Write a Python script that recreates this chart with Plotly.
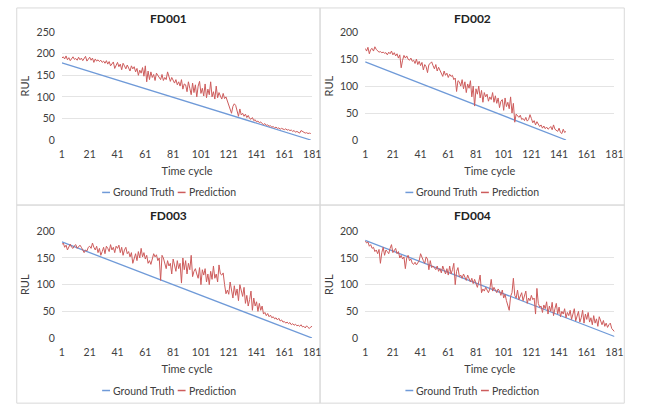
import plotly.graph_objects as go

# ---------------- data ----------------
cycle_ticks = [1, 21, 41, 61, 81, 101, 121, 141, 161, 181]

# Ground truth: straight countdown lines (start / end points)
gt1_x = [1, 180]; gt1_y = [179, 0]
gt2_x = [1, 146]; gt2_y = [145, 0]
gt3_x = [1, 181]; gt3_y = [180, 0]
gt4_x = [1, 181]; gt4_y = [183, 3]

pred1 = [190,193,188,195,186,191,184,190,193,187,
         189,185,192,186,190,184,188,194,183,189,
         192,185,190,180,188,183,186,182,185,180,
         183,178,184,176,182,172,178,181,166,175,
         180,170,176,163,178,172,165,174,168,160,
         172,165,170,158,166,150,162,155,168,148,
         172,135,160,140,158,145,152,138,155,150,
         146,140,152,138,145,140,158,143,136,145,
         138,132,140,128,135,125,140,118,130,128,
         112,135,120,105,132,110,128,100,125,136,
         108,120,102,130,98,118,105,135,100,112,
         95,125,98,110,102,95,108,96,100,90,
         82,70,62,78,84,80,65,55,72,58,
         62,55,60,52,57,50,48,52,45,47,
         42,44,40,42,38,36,38,34,35,32,
         33,30,31,28,30,27,28,25,27,26,
         24,26,23,24,22,23,20,22,18,20,
         17,16,22,20,18,16,17,15,16,15]

pred2 = [170,165,172,160,168,170,165,173,168,166,
         163,164,162,163,161,162,158,163,160,165,
         158,162,156,160,152,158,134,148,157,152,
         156,150,148,152,146,148,142,150,140,146,
         138,144,130,140,136,125,140,142,145,138,
         132,140,128,135,130,126,118,128,120,124,
         116,122,118,120,112,115,90,110,108,100,
         112,95,108,88,104,96,110,80,100,63,
         95,85,100,78,92,70,88,80,85,72,
         80,75,88,70,82,68,78,60,72,75,
         55,78,62,70,58,80,50,68,33,48,
         45,42,46,38,40,36,42,35,38,47,
         40,32,36,28,34,30,25,28,22,26,
         21,24,20,22,25,19,28,20,18,16,
         22,14,12,20,14,16]

pred3 = [175,178,170,174,165,172,176,170,168,173,
         175,168,172,174,170,166,160,165,163,170,
         172,168,178,170,165,172,160,168,155,162,
         170,158,172,168,162,175,165,170,160,172,
         168,174,160,170,155,165,170,158,162,152,
         160,140,150,158,145,162,150,168,152,160,
         148,155,140,145,138,150,158,152,156,145,
         150,108,155,150,140,130,145,135,140,120,
         148,138,125,145,130,140,103,150,128,145,
         120,140,128,155,115,125,130,120,112,132,
         100,128,118,130,105,120,100,125,110,135,
         112,120,105,137,120,118,122,100,83,90,
         82,105,90,75,98,80,92,70,100,85,
         78,95,65,80,60,72,88,52,75,60,
         68,50,65,52,60,45,48,42,46,40,
         43,38,40,36,38,34,37,32,34,30,
         31,28,30,27,29,25,27,24,26,23,
         24,22,25,21,22,19,23,20,18,21,
         22]

pred4 = [182,178,180,172,175,168,170,162,165,158,
         166,140,160,170,155,165,162,158,168,175,
         160,165,168,158,162,150,155,148,152,130,
         150,155,145,148,140,138,142,137,140,145,
         158,150,145,140,152,148,128,145,132,135,
         130,128,135,125,130,122,135,125,120,130,
         118,135,120,128,140,100,125,132,115,118,
         112,120,115,108,118,110,105,112,102,110,
         100,95,105,118,85,92,88,95,90,85,
         92,110,88,95,90,85,92,88,80,90,
         75,82,70,60,52,78,85,112,80,75,
         90,72,80,85,70,78,88,65,75,70,
         80,72,75,45,93,65,58,60,48,62,
         55,68,45,60,50,67,42,55,65,45,
         58,40,50,45,55,38,48,42,52,35,
         45,55,32,40,50,30,38,52,28,45,
         35,48,30,38,25,42,28,36,22,40,
         30,25,33,22,28,20,25,28,18,15,
         12]

titles = ["FD001", "FD002", "FD003", "FD004"]
legend_names = ["Ground Truth", "Prediction"]
y_max = [250, 200, 200, 200]
series = [(gt1_x, gt1_y, pred1), (gt2_x, gt2_y, pred2),
          (gt3_x, gt3_y, pred3), (gt4_x, gt4_y, pred4)]

# ---------------- layout geometry (pixels) ----------------
W, H = 649, 414
def fx(p): return p / W
def fy(p): return 1 - p / H

panels = [(14, 2, 323, 205), (323, 2, 633, 205), (14, 205, 323, 409), (323, 205, 633, 409)]
plots = [(60, 27, 315, 138), (369, 27, 623, 138), (60, 232, 315, 342), (369, 232, 623, 342)]

GT_COLOR = "#6F9AD8"
PR_COLOR = "#CD5C5C"
TXT = "#404040"
FONT = "Lato, Open Sans, sans-serif"

fig = go.Figure()
layout = dict(width=W, height=H, margin=dict(l=0, r=0, t=0, b=0),
              paper_bgcolor="white", plot_bgcolor="white",
              font=dict(family=FONT, color=TXT, size=10),
              showlegend=False, shapes=[], annotations=[])

for i in range(4):
    gx, gy, pr = series[i]
    n = "" if i == 0 else str(i + 1)
    fig.add_trace(go.Scatter(x=gx, y=gy, mode="lines", name=legend_names[0],
                             line=dict(color=GT_COLOR, width=1.3),
                             xaxis="x" + n, yaxis="y" + n))
    fig.add_trace(go.Scatter(x=list(range(1, len(pr) + 1)), y=pr, mode="lines", name=legend_names[1],
                             line=dict(color=PR_COLOR, width=1),
                             xaxis="x" + n, yaxis="y" + n))
    l, t, r, b = plots[i]
    layout["xaxis" + n] = dict(domain=[fx(l), fx(r)], anchor="y" + n, range=[1, 181],
                               tickvals=cycle_ticks, showgrid=False, zeroline=False,
                               showline=False, ticks="", ticklabelstandoff=6,
                               tickfont=dict(size=10.5, color=TXT),
                               title=dict(text="Time cycle", font=dict(size=11, color=TXT), standoff=8))
    layout["yaxis" + n] = dict(domain=[fy(b), fy(t)], anchor="x" + n, range=[0, y_max[i]],
                               dtick=50, showgrid=True, gridcolor="#E4E4E4", gridwidth=1,
                               zeroline=False, showline=False, ticks="", ticklabelstandoff=6,
                               tickfont=dict(size=10.5, color=TXT),
                               title=dict(text="RUL", font=dict(size=11, color=TXT), standoff=4))
    pl, pt, pr_, pb = panels[i]
    layout["shapes"].append(dict(type="rect", xref="paper", yref="paper",
                                 x0=fx(pl), x1=fx(pr_), y0=fy(pb), y1=fy(pt),
                                 line=dict(color="#D9D9D9", width=1), fillcolor="rgba(0,0,0,0)",
                                 layer="below"))
    layout["annotations"].append(dict(text="<b>" + titles[i] + "</b>", xref="paper", yref="paper",
                                      x=fx((pl + pr_) / 2), y=fy(pt + 11), xanchor="center",
                                      yanchor="middle", showarrow=False,
                                      font=dict(size=12, color="#222222")))
    # legend: short line key + label, per panel
    ox = pl - 14
    ly = fy(pb - 13)
    for key_x0, txt_x, col, name in [(101, 112, GT_COLOR, legend_names[0]),
                                     (178, 189, PR_COLOR, legend_names[1])]:
        layout["shapes"].append(dict(type="line", xref="paper", yref="paper",
                                     x0=fx(key_x0 + ox), x1=fx(key_x0 + 8 + ox), y0=ly, y1=ly,
                                     line=dict(color=col, width=1.5)))
        layout["annotations"].append(dict(text=name, xref="paper", yref="paper",
                                          x=fx(txt_x + ox), y=ly, xanchor="left", yanchor="middle",
                                          showarrow=False, xshift=-2,
                                          font=dict(size=10.5, color=TXT)))

fig.update_layout(**layout)
fig.write_html("out.html")
